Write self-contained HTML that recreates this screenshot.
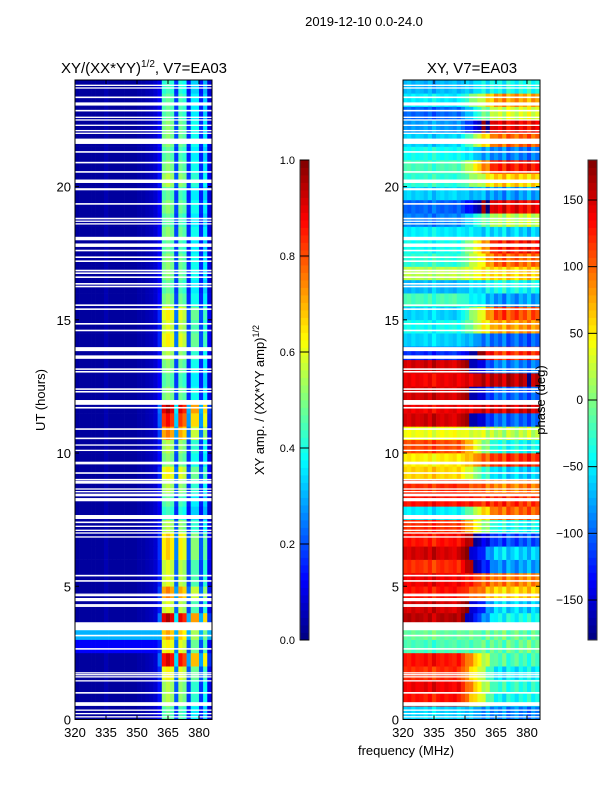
<!DOCTYPE html>
<html><head><meta charset="utf-8">
<style>
html,body{margin:0;padding:0;background:#fff;}
body{width:600px;height:800px;overflow:hidden;font-family:"Liberation Sans","DejaVu Sans",sans-serif;}
svg text{font-family:"Liberation Sans","DejaVu Sans",sans-serif;fill:#000;}
</style></head>
<body>
<svg id="fig" width="600" height="800" viewBox="0 0 600 800" xmlns="http://www.w3.org/2000/svg">
  <text x="364" y="26" font-size="13" text-anchor="middle">2019-12-10 0.0-24.0</text>
  <text x="144" y="73" font-size="15" text-anchor="middle">XY/(XX*YY)<tspan font-size="10" dy="-6">1/2</tspan><tspan dy="6">, V7=EA03</tspan></text>
  <text x="472" y="73" font-size="15" text-anchor="middle">XY, V7=EA03</text>
  <g id="ampPlot"></g>
  <g id="phasePlot"></g>
  <g id="axes"></g>
  <text transform="translate(45,400) rotate(-90)" font-size="13" text-anchor="middle">UT (hours)</text>
  <text x="406" y="755" font-size="13" text-anchor="middle">frequency (MHz)</text>
  <g id="cbars"></g>
  <text transform="translate(264,400) rotate(-90)" font-size="13" text-anchor="middle">XY amp. / (XX*YY amp)<tspan font-size="9" dy="-5">1/2</tspan></text>
  <text transform="translate(545,400) rotate(-90)" font-size="13" text-anchor="middle">phase (deg)</text>
</svg>
<script>
// ---- data ----
const freqs = [320,322,324,326,328,330,332,334,336,338,340,342,344,346,348,350,352,354,356,358,360,362,364,366,368,370,372,374,376,378,380,382,384,386];
const ampColProfile = [0.03,0.03,0.03,0.03,0.03,0.03,0.03,0.05,0.03,0.03,0.03,0.03,0.03,0.03,0.03,0.04,0.04,0.05,0.06,0.08,0.2,0.75,0.8,0.75,0.3,0.75,0.7,0.25,0.6,0.6,0.25,0.55,0.15,0.05];
const ampRowGain = [0.6,0.7,0.7,0.8,1.15,0.8,0.9,1.2,0.75,0.95,0.75,0.75,0.85,0.85,0.7,0.55,0.6,0.7,0.8,0.65,0.7,0.95,1.1,1.2,0.65,0.6,0.65,0.7,0.8,0.75,0.8,0.65,0.6,0.65,0.65,0.6,0.65,0.6,0.65,0.6,0.7,0.65,0.6,0.65,0.65,0.6,0.6,0.55];
const ampRowBg = [0.03,0.03,0.03,0.03,0.03,0.12,0.3,0.03,0.03,0.03,0.03,0.03,0.03,0.03,0.03,0.03,0.03,0.03,0.03,0.03,0.03,0.03,0.03,0.03,0.03,0.03,0.03,0.03,0.03,0.03,0.03,0.03,0.03,0.03,0.03,0.03,0.03,0.03,0.03,0.03,0.03,0.03,0.03,0.03,0.03,0.03,0.03,0.03];
const phaseLow = [-60,130,140,120,130,-20,-10,160,150,130,140,120,150,130,120,-50,130,120,60,50,110,40,150,140,150,140,150,-120,-60,-40,-60,-20,-70,20,-30,-40,-50,-90,-100,-60,-30,-20,-40,-60,-80,-100,-50,-70];
const phaseHigh = [-90,-40,-30,-50,-20,-10,-10,-40,-60,60,90,-80,-60,-110,-40,100,120,90,-60,120,-40,20,-100,150,-100,160,-90,120,-100,80,110,-80,-40,60,100,130,-60,20,140,-80,60,130,-90,100,140,30,80,-40];
const phaseColShift = [0,5,-5,3,0,-8,5,-15,0,5,-3,3,8,-5,0,5,-10,3,0,15,-15,10,-10,5,-20,15,0,-15,10,-5,20,-10,5,0];
const flags = [[23.8,0.05],[23.7,0.05],[23.35,0.06],[23.1,0.12],[22.85,0.06],[22.6,0.05],[22.5,0.05],[22.3,0.05],[22.1,0.05],[22.0,0.05],[21.7,0.2],[21.3,0.06],[20.9,0.06],[20.55,0.06],[20.2,0.13],[19.9,0.08],[19.35,0.06],[18.8,0.06],[18.7,0.05],[18.6,0.05],[18.05,0.13],[17.8,0.13],[17.6,0.06],[17.35,0.06],[17.2,0.06],[16.85,0.06],[16.75,0.06],[16.6,0.06],[16.35,0.06],[16.25,0.06],[15.55,0.06],[15.4,0.06],[14.85,0.06],[14.6,0.06],[13.9,0.15],[13.6,0.13],[13.15,0.06],[13.05,0.06],[12.4,0.06],[12.3,0.06],[11.9,0.18],[11.7,0.06],[10.9,0.06],[10.55,0.06],[10.3,0.05],[10.1,0.05],[9.65,0.05],[9.6,0.05],[9.25,0.06],[9.0,0.06],[8.9,0.1],[8.65,0.05],[8.55,0.05],[8.45,0.05],[8.4,0.05],[8.25,0.12],[7.6,0.15],[7.4,0.06],[7.25,0.05],[7.1,0.05],[7.0,0.05],[6.85,0.05],[5.4,0.06],[5.2,0.06],[4.7,0.05],[4.65,0.05],[4.5,0.12],[4.3,0.06],[4.25,0.05],[3.5,0.3],[3.15,0.06],[2.65,0.06],[1.75,0.05],[1.68,0.05],[1.6,0.05],[1.45,0.05],[1.0,0.06],[0.58,0.14],[0.35,0.05],[0.22,0.05],[0.1,0.05]];
const xTicks = [320,335,350,365,380];
const yTicks = [0,5,10,15,20];
const ampCbTicks = [0.0,0.2,0.4,0.6,0.8,1.0];
const phaseCbTicks = [-150,-100,-50,0,50,100,150];

// ---- scales ----
const NS="http://www.w3.org/2000/svg";
const Y0=719.5, YTOP=80, FMIN=320, FMAX=386.3;
const panels=[{x0:75,x1:212},{x0:403,x1:540}];
function ys(h){return Y0-(Y0-YTOP)*h/24;}
function xs(p,f){return p.x0+(p.x1-p.x0)*(f-FMIN)/(FMAX-FMIN);}
function jet(v){v=Math.max(0,Math.min(1,v));
 const r=Math.max(0,Math.min(1,1.5-Math.abs(4*v-3)));
 const g=Math.max(0,Math.min(1,1.5-Math.abs(4*v-2)));
 const b=Math.max(0,Math.min(1,1.5-Math.abs(4*v-1)));
 return `rgb(${Math.round(r*255)},${Math.round(g*255)},${Math.round(b*255)})`;}
function wrap(a){return ((a+180)%360+360)%360-180;}
function mk(tag,attrs,parent){const e=document.createElementNS(NS,tag);for(const k in attrs)e.setAttribute(k,attrs[k]);parent.appendChild(e);return e;}

// amplitude heatmap
const ampG=document.getElementById('ampPlot');
for(let i=0;i<ampRowGain.length;i++){
 const yA=ys((i+1)*0.5), yB=ys(i*0.5);
 for(let j=0;j<freqs.length;j++){
  const p=panels[0];
  const xa=xs(p,freqs[j]), xb=Math.min(p.x1,xs(p,freqs[j]+2));
  if(xb<=xa)continue;
  const prof=ampColProfile[j];
  const v=prof<0.15?Math.max(prof,ampRowBg[i]):Math.max(ampRowBg[i],prof*ampRowGain[i]);
  const r=mk('rect',{x:xa.toFixed(2),y:yA.toFixed(2),width:(xb-xa+0.3).toFixed(2),height:(yB-yA+0.3).toFixed(2),fill:jet(v)},ampG);
  
  
 }
}
// phase heatmap
const phG=document.getElementById('phasePlot');
for(let i=0;i<phaseLow.length;i++){
 const yA=ys((i+1)*0.5), yB=ys(i*0.5);
 for(let j=0;j<freqs.length;j++){
  const p=panels[1];
  const xa=xs(p,freqs[j]), xb=Math.min(p.x1,xs(p,freqs[j]+2));
  if(xb<=xa)continue;
  const w=Math.max(0,Math.min(1,(freqs[j]-346)/18));
  let ph=phaseLow[i]+w*wrap(phaseHigh[i]-phaseLow[i])+phaseColShift[j]*((i%2)?1:-1);
  ph=wrap(ph);
  const r=mk('rect',{x:xa.toFixed(2),y:yA.toFixed(2),width:(xb-xa+0.3).toFixed(2),height:(yB-yA+0.3).toFixed(2),fill:jet((ph+180)/360)},phG);
  
  
 }
}
// flagged rows
for(const p of panels){
 const g=p.x0<300?ampG:phG;
 for(const f of flags){
  const yA=ys(f[0]+f[1]/2), yB=ys(f[0]-f[1]/2);
  const r=mk('rect',{x:p.x0,y:yA.toFixed(2),width:p.x1-p.x0,height:Math.max(1.2,yB-yA).toFixed(2),fill:'#fff'},g);
  
  
 }
}
// axes
const ax=document.getElementById('axes');
panels.forEach((p,k)=>{
 const fr=mk('rect',{x:p.x0,y:YTOP,width:p.x1-p.x0,height:Y0-YTOP,fill:'none',stroke:'#000','stroke-width':1},ax);
 
 
 for(const t of xTicks){const x=xs(p,t);
  mk('line',{x1:x,x2:x,y1:Y0,y2:Y0-4,stroke:'#000'},ax);
  mk('line',{x1:x,x2:x,y1:YTOP,y2:YTOP+4,stroke:'#000'},ax);
  const tx=mk('text',{x:x,y:737,'font-size':13,'text-anchor':'middle'},ax);tx.textContent=t;
  
  
 }
 for(const t of yTicks){const y=ys(t);
  mk('line',{x1:p.x0,x2:p.x0+4,y1:y,y2:y,stroke:'#000'},ax);
  mk('line',{x1:p.x1,x2:p.x1-4,y1:y,y2:y,stroke:'#000'},ax);
  const tx=mk('text',{x:p.x0-4,y:y+5,'font-size':13,'text-anchor':'end'},ax);tx.textContent=t;
  
  
 }
});
// colorbars
const cb=document.getElementById('cbars');
function colorbar(x,min,max,ticks,fs){
 const top=160,bot=640,n=64;
 for(let i=0;i<n;i++){const h=(bot-top)/n;
  const r=mk('rect',{x:x,y:(bot-(i+1)*h).toFixed(2),width:9,height:(h+0.4).toFixed(2),fill:jet((i+0.5)/n)},cb);
  
  }
 mk('rect',{x:x,y:top,width:9,height:bot-top,fill:'none',stroke:'#333','stroke-width':1},cb);
 for(const t of ticks){const y=bot-(bot-top)*(t-min)/(max-min);
  mk('line',{x1:x,x2:x+9,y1:y,y2:y,stroke:'#000'},cb);
  const tx=mk('text',{x:x-5,y:y+4,'font-size':fs,'text-anchor':'end'},cb);
  tx.textContent=(max<=1?t.toFixed(1):String(t).replace('-','\u2212'));
  
  }
}
colorbar(300,0,1,ampCbTicks,11);
colorbar(588,-180,180,phaseCbTicks,12);
</script>
</body></html>
